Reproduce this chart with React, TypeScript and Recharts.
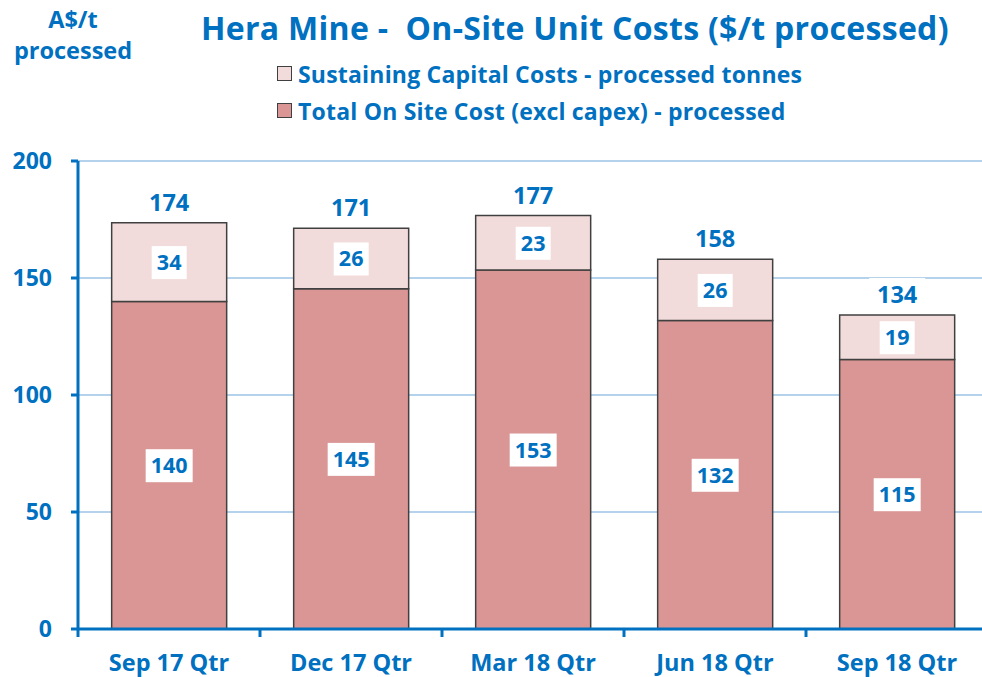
import { BarChart, Bar, XAxis, YAxis, CartesianGrid, LabelList } from 'recharts';

const quarters = ['Sep 17 Qtr', 'Dec 17 Qtr', 'Mar 18 Qtr', 'Jun 18 Qtr', 'Sep 18 Qtr'];
const onSiteCost = [140, 145.4, 153.4, 131.8, 115.2];
const sustainingCapital = [33.6, 25.9, 23.3, 26.2, 19];
const yTicks = [0, 50, 100, 150, 200];

const legendItems = [
    { label: 'Sustaining Capital Costs - processed tonnes', fill: '#F2DCDB' },
    { label: 'Total On Site Cost (excl capex) - processed', fill: '#D99694' },
];

const BLUE = '#0070C0';
const FONT = '"Open Sans", Lato, sans-serif';
const W = 990;
const H = 677;
const LEFT = 78;
const RIGHT_PAD = 2;
const BAND = (W - LEFT - RIGHT_PAD) / quarters.length;

const data = quarters.map((q, i) => ({
    quarter: q,
    onSite: onSiteCost[i],
    sustaining: sustainingCapital[i],
}));

// petit carré blanc avec la valeur au centre du segment
function BoxLabel(props: any) {
    const { x, y, width, height, value } = props;
    const txt = String(Math.round(value));
    const bw = txt.length * 12 + 11;
    const cx = x + width / 2;
    const cy = y + height / 2;
    return (
        <g>
            <rect x={cx - bw / 2} y={cy - 16} width={bw} height={33} fill="#fff" />
            <text x={cx} y={cy + 8} textAnchor="middle" fill={BLUE} fontFamily={FONT} fontWeight={700} fontSize={21.5}>
                {txt}
            </text>
        </g>
    );
}

function TopLabel(props: any) {
    const { x, y, width, index } = props;
    const total = String(Math.round(onSiteCost[index] + sustainingCapital[index]));
    const cx = x + width / 2;
    return (
        <g>
            <BoxLabel {...props} />
            <rect x={cx - 28} y={y - 37} width={56} height={32} fill="#fff" />
            <text x={cx} y={y - 12} textAnchor="middle" fill={BLUE} fontFamily={FONT} fontWeight={700} fontSize={23.5}>
                {total}
            </text>
        </g>
    );
}

function XTick(props: any) {
    const { x, y, payload, index } = props;
    const left = x - BAND / 2;
    return (
        <g>
            <line x1={left} y1={y} x2={left} y2={y + 8} stroke={BLUE} strokeWidth={3} />
            {index === quarters.length - 1 && (
                <line x1={x + BAND / 2} y1={y} x2={x + BAND / 2} y2={y + 8} stroke={BLUE} strokeWidth={3} />
            )}
            <text x={x} y={y + 42} textAnchor="middle" fill={BLUE} fontFamily={FONT} fontWeight={700} fontSize={23.5}>
                {payload.value}
            </text>
        </g>
    );
}

export default function App() {
    return (
        <div style={{ position: 'absolute', left: 0, top: 0, width: 982, height: H, overflow: 'hidden', background: '#fff' }}>
            <div
                style={{
                    position: 'absolute',
                    left: 201,
                    top: 6,
                    color: BLUE,
                    fontFamily: FONT,
                    fontWeight: 700,
                    fontSize: 32,
                    letterSpacing: 0.3,
                    whiteSpace: 'pre',
                }}
            >
                Hera Mine -  On-Site Unit Costs ($/t processed)
            </div>
            <div
                style={{
                    position: 'absolute',
                    left: 8,
                    top: 4,
                    width: 130,
                    textAlign: 'center',
                    color: BLUE,
                    fontFamily: FONT,
                    fontWeight: 700,
                    fontSize: 23.5,
                    lineHeight: '31px',
                }}
            >
                A$/t
                <br />
                processed
            </div>
            <div style={{ position: 'absolute', left: 277, top: 55 }}>
                {legendItems.map((it) => (
                    <div key={it.label} style={{ display: 'flex', alignItems: 'center', height: 37 }}>
                        <span
                            style={{
                                width: 13,
                                height: 13,
                                background: it.fill,
                                border: '1.5px solid #404040',
                                marginRight: 6,
                            }}
                        />
                        <span style={{ color: BLUE, fontFamily: FONT, fontWeight: 700, fontSize: 23, letterSpacing: 0.2 }}>
                            {it.label}
                        </span>
                    </div>
                ))}
            </div>
            <BarChart width={W} height={H} data={data} margin={{ top: 161, right: RIGHT_PAD, bottom: 0, left: 0 }} barCategoryGap="18.5%">
                <CartesianGrid horizontal vertical={false} stroke="#9DC3E6" strokeWidth={1.5} />
                <XAxis
                    dataKey="quarter"
                    height={48}
                    axisLine={{ stroke: BLUE, strokeWidth: 3 }}
                    tickLine={false}
                    tickSize={0}
                    tickMargin={0}
                    tick={<XTick />}
                    interval={0}
                />
                <YAxis
                    width={LEFT}
                    domain={[0, 200]}
                    ticks={yTicks}
                    axisLine={{ stroke: BLUE, strokeWidth: 3 }}
                    tickLine={{ stroke: BLUE, strokeWidth: 3 }}
                    tickSize={7}
                    tickMargin={19}
                    tick={{ fill: BLUE, fontFamily: FONT, fontWeight: 700, fontSize: 23 }}
                />
                <Bar dataKey="onSite" stackId="a" fill="#D99694" stroke="#404040" strokeWidth={1.5} isAnimationActive={false}>
                    <LabelList dataKey="onSite" content={<BoxLabel />} />
                </Bar>
                <Bar dataKey="sustaining" stackId="a" fill="#F2DCDB" stroke="#404040" strokeWidth={1.5} isAnimationActive={false}>
                    <LabelList dataKey="sustaining" content={<TopLabel />} />
                </Bar>
            </BarChart>
        </div>
    );
}
